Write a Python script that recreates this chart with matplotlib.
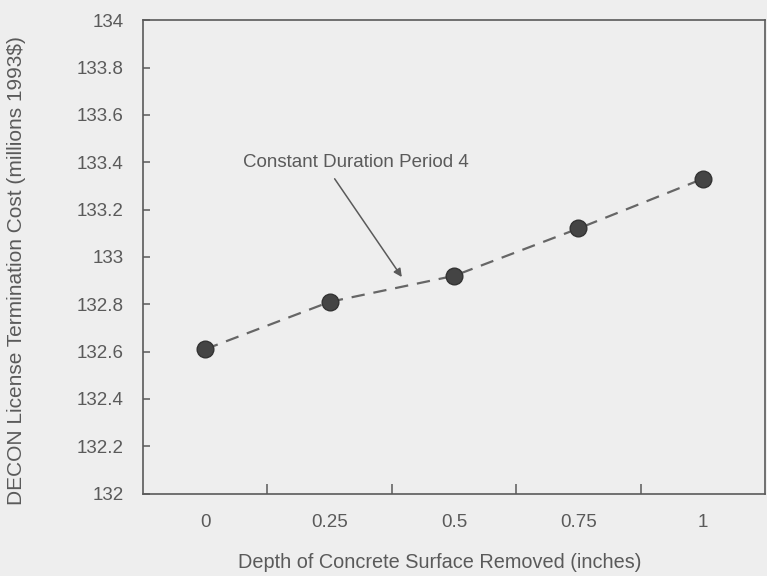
import matplotlib
matplotlib.use("Agg")
from matplotlib import pyplot as plt

depths = ["0", "0.25", "0.5", "0.75", "1"]
cost = [132.61, 132.81, 132.92, 133.12, 133.33]
y_ticks = [132, 132.2, 132.4, 132.6, 132.8, 133, 133.2, 133.4, 133.6, 133.8, 134]
y_tick_labels = ["132", "132.2", "132.4", "132.6", "132.8", "133",
                 "133.2", "133.4", "133.6", "133.8", "134"]

bg = "#eeeeee"
ink = "#5a5a5a"

plt.rcParams["font.family"] = ["Liberation Sans", "DejaVu Sans"]

fig = plt.figure(figsize=(7.67, 5.76), dpi=100, facecolor=bg)
ax = fig.add_axes([0.1865, 0.143, 0.811, 0.822], facecolor=bg)

x = list(range(len(depths)))
ax.plot(x, cost, color="#666666", lw=1.6, dashes=(6, 4),
        marker="o", markersize=12, markerfacecolor="#444444",
        markeredgecolor="#333333")

ax.set_xlim(-0.5, len(depths) - 0.5)
ax.set_ylim(132, 134)
ax.set_yticks(y_ticks)
ax.set_yticklabels(y_tick_labels)

# category labels centred, tick marks between categories
ax.set_xticks([i + 0.5 for i in x[:-1]])
ax.set_xticklabels([])
ax.set_xticks(x, minor=True)
ax.set_xticklabels(depths, minor=True)
ax.tick_params(axis="x", which="major", direction="in", length=7,
               width=1.1, color=ink)
ax.tick_params(axis="x", which="minor", length=0, pad=15,
               labelsize=13.5, labelcolor=ink)
ax.tick_params(axis="y", direction="in", length=5, width=1.1, color=ink,
               pad=14, labelsize=13.5, labelcolor=ink)

for sp in ax.spines.values():
    sp.set_color(ink)
    sp.set_linewidth(1.2)

ax.set_xlabel("Depth of Concrete Surface Removed (inches)", fontsize=14.3,
              color=ink, va="center")
ax.xaxis.set_label_coords(0.477, -0.145)
ax.set_ylabel("DECON License Termination Cost (millions 1993$)", fontsize=15,
              color=ink, va="center")
ax.yaxis.set_label_coords(-0.203, 0.472)

ax.text(0.3, 133.4, "Constant Duration Period 4", fontsize=13.5, color=ink,
        va="center", ha="left")
ax.annotate("", xy=(1.58, 132.915), xytext=(1.04, 133.33),
            arrowprops=dict(arrowstyle="-|>", color=ink, lw=1.1,
                            shrinkA=0, shrinkB=0, mutation_scale=12))

fig.savefig("out.png", dpi=100, facecolor=bg)
